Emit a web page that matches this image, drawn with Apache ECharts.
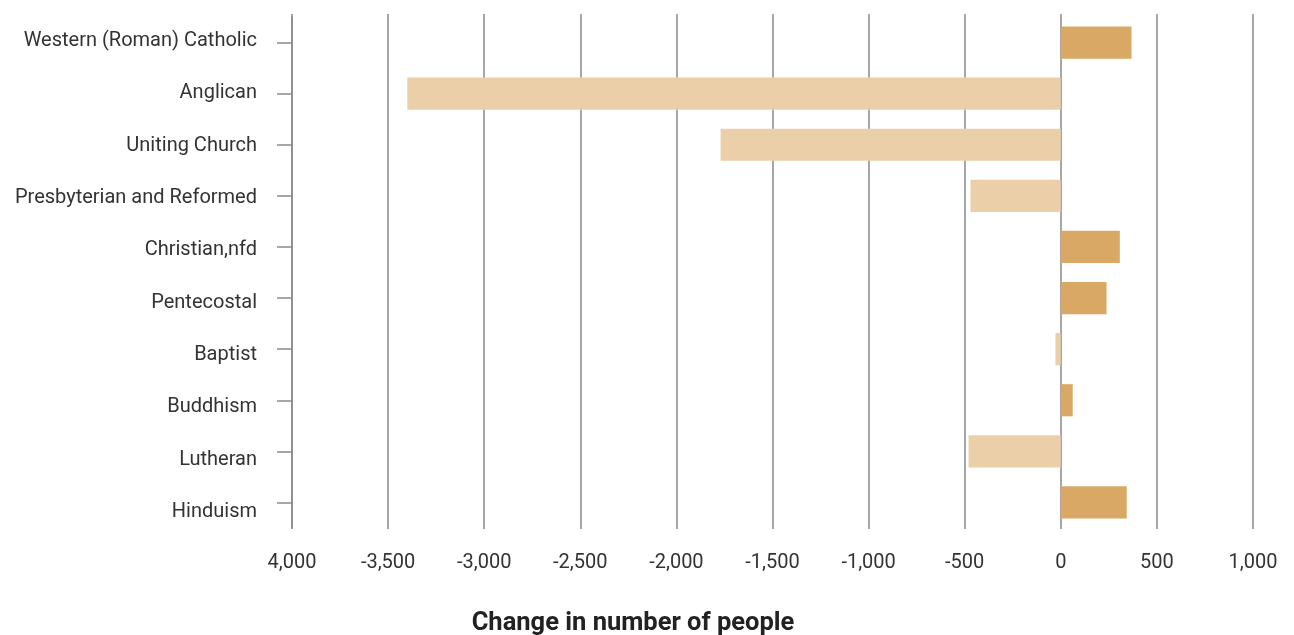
<!DOCTYPE html>
<html>
<head>
<meta charset="utf-8">
<script src="https://cdn.jsdelivr.net/npm/echarts@6/dist/echarts.min.js"></script>
<style>
html,body{margin:0;padding:0;background:#fff;}
#chart{width:1294px;height:635px;}
</style>
</head>
<body>
<div id="chart"></div>
<script>
var categories = ['Western (Roman) Catholic','Anglican','Uniting Church','Presbyterian and Reformed','Christian,nfd','Pentecostal','Baptist','Buddhism','Lutheran','Hinduism'];
var changeValues = [368, -3400, -1770, -470, 307, 238, -28, 62, -480, 343];
var xTickValues = [-4000, -3500, -3000, -2500, -2000, -1500, -1000, -500, 0, 500, 1000];
var xTickLabels = ['4,000', '-3,500', '-3,000', '-2,500', '-2,000', '-1,500', '-1,000', '-500', '0', '500', '1,000'];
var axisTitle = 'Change in number of people';

var POS = '#D9A864', NEG = '#EACFA8', LINE = '#8a8a8a', TXT = '#333333';
var FONT = 'Roboto';
var XMIN = -4000, XMAX = 1000, XINT = 500;

var chart = echarts.init(document.getElementById('chart'));
chart.setOption({
  animation: false,
  backgroundColor: '#fff',
  title: {
    text: axisTitle,
    left: 628, top: 606, textAlign: 'center',
    textStyle: {fontFamily: FONT, fontWeight: 'bold', fontSize: 25.5, color: '#222'}
  },
  grid: [
    {left: 292, right: 41, top: 14, bottom: 106},   // grid lines + x labels
    {left: 292, right: 41, top: 17, bottom: 107},   // bars + y ticks
    {left: 292, right: 41, top: 15, bottom: 97}     // y labels
  ],
  xAxis: [
    {
      gridIndex: 0, type: 'value', min: XMIN, max: XMAX, interval: XINT,
      axisLine: {show: false}, axisTick: {show: false},
      splitLine: {show: true, lineStyle: {color: LINE, width: 1.5}},
      axisLabel: {
        margin: 24, color: TXT, fontFamily: FONT, fontSize: 20,
        formatter: function (v) { var i = xTickValues.indexOf(v); return i >= 0 ? xTickLabels[i] : ''; }
      }
    },
    {gridIndex: 1, type: 'value', min: XMIN, max: XMAX, interval: XINT, show: false, splitLine: {show: false}},
    {gridIndex: 2, type: 'value', min: XMIN, max: XMAX, interval: XINT, show: false, splitLine: {show: false}}
  ],
  yAxis: [
    {gridIndex: 0, type: 'category', data: categories, inverse: true, show: false},
    {
      gridIndex: 1, type: 'category', data: categories, inverse: true,
      axisLine: {show: true, onZero: false, lineStyle: {color: LINE, width: 1.5}},
      axisTick: {show: true, alignWithLabel: true, length: 15, lineStyle: {color: LINE, width: 1.5}},
      axisLabel: {show: false}
    },
    {
      gridIndex: 2, type: 'category', data: categories, inverse: true,
      axisLine: {show: false, onZero: false}, axisTick: {show: false},
      axisLabel: {margin: 35, color: TXT, fontFamily: FONT, fontSize: 20}
    }
  ],
  series: [{
    type: 'bar',
    xAxisIndex: 1, yAxisIndex: 1,
    barCategoryGap: '37%',
    data: changeValues.map(function (v) {
      return {value: v, itemStyle: {color: v >= 0 ? POS : NEG}};
    })
  }]
});
</script>
</body>
</html>
